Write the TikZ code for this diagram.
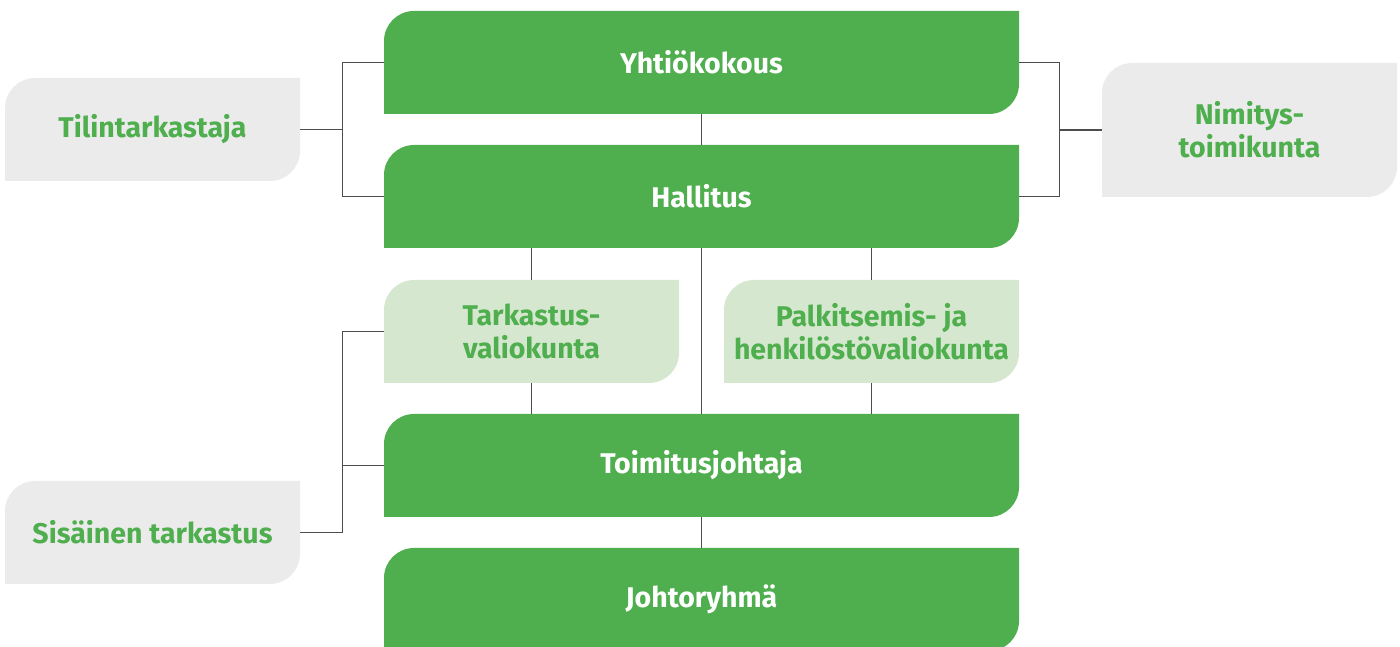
\documentclass[tikz,border=0pt]{standalone}
\usepackage{fontspec}
\setmainfont{Fira Sans}
\usetikzlibrary{positioning}
\definecolor{boxgreen}{HTML}{4FAE4E}
\definecolor{boxgray}{HTML}{EBEBEB}
\definecolor{boxlight}{HTML}{D5E8CF}
\definecolor{linegray}{HTML}{4D4D4D}
\begin{document}
\begin{tikzpicture}
	[
		x=1pt, y=1pt,
		font=\fontsize{28.5}{33}\selectfont\bfseries,
		conn/.style={draw=linegray, line width=1.2pt}
	]
	\tikzstyle{Leaf} = [rectangle, inner sep=0pt, text centered, align=center,
		path picture={\fill[#1] (path picture bounding box.south west)
			-- ([yshift=-30pt]path picture bounding box.north west)
			arc[start angle=180, end angle=90, radius=30pt]
			-- (path picture bounding box.north east)
			-- ([yshift=30pt]path picture bounding box.south east)
			arc[start angle=0, end angle=-90, radius=30pt]
			-- cycle;}]
	\tikzstyle{Main} = [Leaf=boxgreen, minimum width=635pt, minimum height=103pt, text=white]
	\tikzstyle{Side} = [Leaf=boxgray, minimum width=295pt, minimum height=103pt, text=boxgreen]
	\tikzstyle{Comm} = [Leaf=boxlight, minimum width=295pt, minimum height=103pt, text=boxgreen]
	\useasboundingbox (0,0) rectangle (1400,647);
	% main chain
	\node [Main] (yht) at (701.5,584.5) {Yhtiökokous};
	\node [Main] (hal) at (701.5,450.5) {Hallitus};
	\node [Main] (toi) at (701.5,181.5) {Toimitusjohtaja};
	\node [Main] (joh) at (701.5,47.5) {Johtoryhmä};
	% committees
	\node [Comm] (tar) at (531.5,315.5) {Tarkastus-\\valiokunta};
	\node [Comm] (pal) at (871.5,315.5) {Palkitsemis- ja\\henkilöstövaliokunta};
	% side boxes
	\node [Side] (til) at (152.5,517.5) {Tilintarkastaja};
	\node [Side, minimum height=134pt] (nim) at (1249.5,517) {Nimitys-\\toimikunta};
	\node [Side] (sis) at (152.5,114.5) {Sisäinen tarkastus};
	% connectors
	\draw [conn] (yht.south) -- (hal.north);
	\draw [conn] (hal.south) -- (toi.north);
	\draw [conn] (toi.south) -- (joh.north);
	\draw [conn] (hal.south -| tar.north) -- (tar.north);
	\draw [conn] (tar.south) -- (toi.north -| tar.south);
	\draw [conn] (hal.south -| pal.north) -- (pal.north);
	\draw [conn] (pal.south) -- (toi.north -| pal.south);
	\draw [conn] (yht.west) -- ++(-41,0) |- (hal.west);
	\draw [conn] (til.east) -- ++(43,0);
	\draw [conn] (yht.east) -- ++(40,0) |- (hal.east);
	\draw [conn] (nim.west) -- ++(-43,0);
	\draw [conn] (tar.west) -- ++(-41,0) |- (sis.east);
	\draw [conn] (toi.west) -- ++(-41,0);
\end{tikzpicture}
\end{document}
